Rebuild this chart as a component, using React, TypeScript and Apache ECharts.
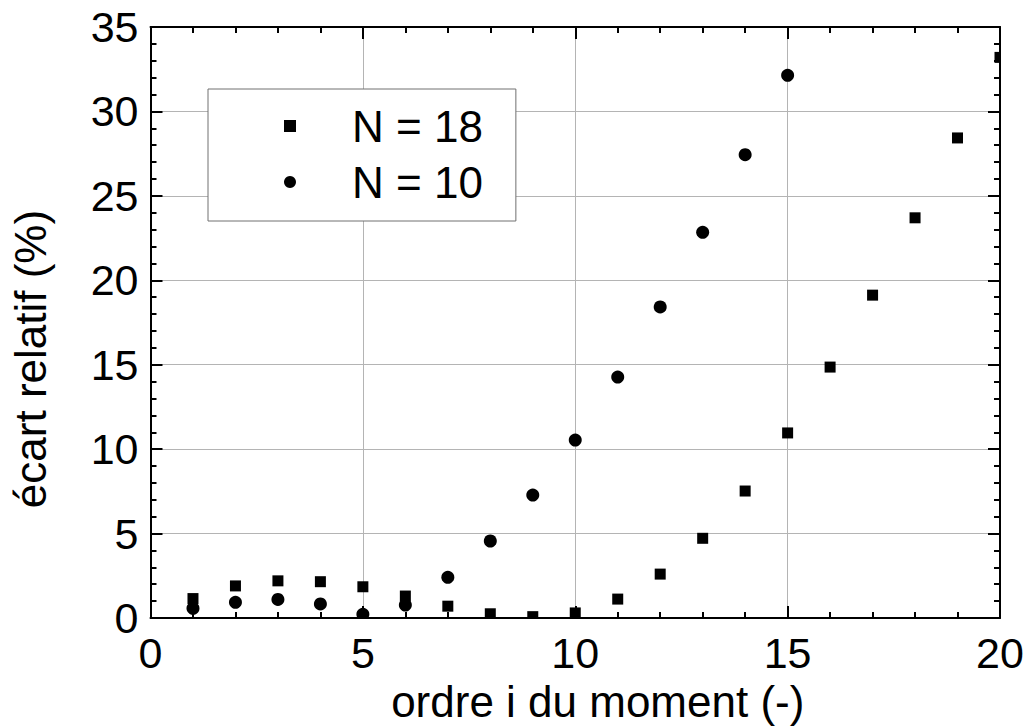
import React, { useEffect, useRef } from "react";
import * as echarts from "echarts";

// Data
const orders18 = [1, 2, 3, 4, 5, 6, 7, 8, 9, 10, 11, 12, 13, 14, 15, 16, 17, 18, 19, 20];
const ecart18 = [1.15, 1.9, 2.2, 2.15, 1.85, 1.3, 0.7, 0.25, 0.08, 0.3, 1.12, 2.6, 4.72, 7.52, 10.96, 14.86, 19.12, 23.7, 28.43, 33.2];
const orders10 = [1, 2, 3, 4, 5, 6, 7, 8, 9, 10, 11, 12, 13, 14, 15];
const ecart10 = [0.57, 0.93, 1.1, 0.83, 0.22, 0.77, 2.41, 4.56, 7.28, 10.54, 14.27, 18.42, 22.84, 27.44, 32.14];
const seriesNames = ["N = 18", "N = 10"];
const xTitle = "ordre i du moment (-)";
const yTitle = "écart relatif (%)";

const FONT = "'Liberation Sans', Arial, Helvetica, sans-serif";

export default function App() {
  const ref = useRef<HTMLDivElement>(null);

  useEffect(() => {
    if (!ref.current) return;
    const chart = echarts.init(ref.current, undefined, { renderer: "svg" });

    const tickCommon = {
      axisLine: { show: true, onZero: false, lineStyle: { color: "#000", width: 2 } },
      axisTick: { show: true, inside: true, length: 12, lineStyle: { color: "#000", width: 2 } },
      minorTick: { show: true, splitNumber: 5, length: 6, lineStyle: { color: "#000", width: 2 } },
    };

    chart.setOption({
      animation: false,
      backgroundColor: "#fff",
      textStyle: { fontFamily: FONT },
      grid: { left: 150.5, right: 27, top: 27, bottom: 109, outerBoundsMode: "none" },
      legend: {
        orient: "vertical",
        left: 208,
        top: 89,
        itemWidth: 12,
        itemHeight: 12,
        itemGap: 12,
        padding: [15, 33, 17, 76],
        borderColor: "#707070",
        borderWidth: 1,
        backgroundColor: "#fff",
        itemStyle: { opacity: 1, color: "#000" },
        textStyle: { fontSize: 44, color: "#000", fontFamily: FONT, padding: [0, 0, 0, 51] },
        data: [
          { name: seriesNames[0], icon: "rect", itemStyle: { color: "#000", opacity: 1 } },
          { name: seriesNames[1], icon: "circle", itemStyle: { color: "#000", opacity: 1 } },
        ],
      },
      xAxis: [
        {
          type: "value",
          position: "bottom",
          min: 0,
          max: 20,
          interval: 5,
          ...tickCommon,
          splitLine: { show: true, lineStyle: { color: "#b4b4b4", width: 1 } },
          axisLabel: { fontSize: 43, color: "#000", margin: 13, fontFamily: FONT },
          name: xTitle,
          nameLocation: "middle",
          nameGap: 61,
          nameTextStyle: { fontSize: 44, color: "#000", fontFamily: FONT, padding: [0, 0, 0, 45] },
        },
        {
          type: "value",
          position: "top",
          min: 0,
          max: 20,
          interval: 5,
          ...tickCommon,
          splitLine: { show: false },
          axisLabel: { show: false },
        },
      ],
      yAxis: [
        {
          type: "value",
          position: "left",
          min: 0,
          max: 35,
          interval: 5,
          ...tickCommon,
          splitLine: { show: true, lineStyle: { color: "#b4b4b4", width: 1 } },
          axisLabel: { fontSize: 43, color: "#000", margin: 12, fontFamily: FONT },
          name: yTitle,
          nameLocation: "middle",
          nameGap: 98,
          nameRotate: 90,
          nameTextStyle: { fontSize: 44, color: "#000", fontFamily: FONT, padding: [0, 73, 0, 0] },
        },
        {
          type: "value",
          position: "right",
          min: 0,
          max: 35,
          interval: 5,
          ...tickCommon,
          splitLine: { show: false },
          axisLabel: { show: false },
        },
      ],
      graphic: [
        { type: "rect", z: 10, shape: { x: 1001, y: 0, width: 26, height: 617 }, style: { fill: "#fff" } },
        { type: "rect", z: 10, shape: { x: 140, y: 619, width: 870, height: 12 }, style: { fill: "#fff" } },
      ],
      series: [
        {
          name: seriesNames[0],
          type: "scatter",
          symbol: "rect",
          symbolSize: 11,
          itemStyle: { color: "#000", opacity: 1 },
          data: orders18.map((x, i) => [x, ecart18[i]]),
        },
        {
          name: seriesNames[1],
          type: "scatter",
          symbol: "circle",
          symbolSize: 13,
          itemStyle: { color: "#000", opacity: 1 },
          data: orders10.map((x, i) => [x, ecart10[i]]),
        },
      ],
    });

    return () => chart.dispose();
  }, []);

  return (
    <div
      ref={ref}
      style={{ position: "absolute", left: 0, top: 0, width: 1027, height: 727 }}
    />
  );
}
